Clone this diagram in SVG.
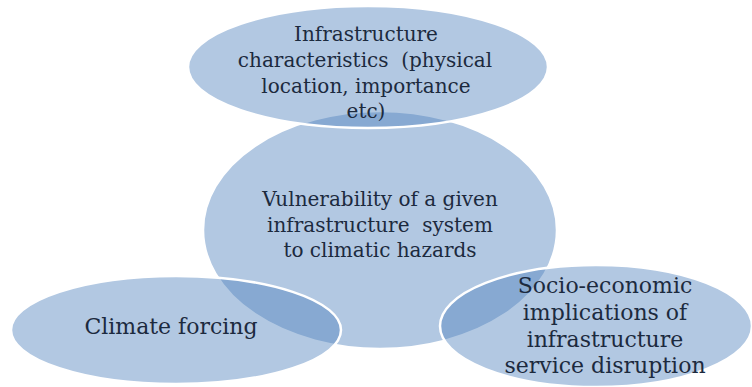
<svg xmlns="http://www.w3.org/2000/svg" width="752" height="387" viewBox="0 0 752 387">
<style>
.c{fill:#4f81bd;fill-opacity:0.44;stroke:#ffffff;stroke-width:2.5}
.t{font-family:"DejaVu Serif","Liberation Serif",serif;font-size:20px;fill:#1c2a3e;text-anchor:middle;white-space:pre}
.b{font-size:22px}
</style>
<rect width="752" height="387" fill="#ffffff"/>
<g id="node-center">
<ellipse class="c" cx="380" cy="230" rx="177" ry="119"/>
<text class="t" x="380" y="206">Vulnerability of a given</text>
<text class="t" x="380" y="232">infrastructure  system</text>
<text class="t" x="380" y="257">to climatic hazards</text>
</g>
<g id="node-top">
<ellipse class="c" cx="368" cy="67" rx="180" ry="61"/>
<text class="t" x="366" y="41">Infrastructure</text>
<text class="t" x="365" y="67">characteristics  (physical</text>
<text class="t" x="366" y="93">location, importance</text>
<text class="t" x="366" y="118">etc)</text>
</g>
<g id="node-left">
<ellipse class="c" cx="176" cy="330" rx="165" ry="54"/>
<text class="t b" x="171" y="334">Climate forcing</text>
</g>
<g id="node-right">
<ellipse class="c" cx="596" cy="326" rx="156" ry="61"/>
<text class="t b" x="605" y="293">Socio-economic</text>
<text class="t b" x="605" y="320">implications of</text>
<text class="t b" x="605" y="347">infrastructure</text>
<text class="t b" x="605" y="373">service disruption</text>
</g>
<g id="connectors"></g>
</svg>
